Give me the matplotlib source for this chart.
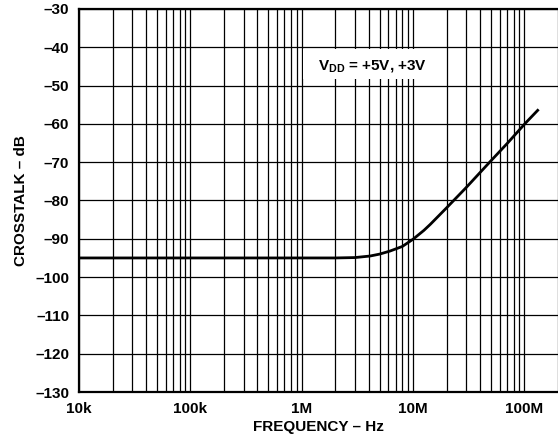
import matplotlib
matplotlib.use("Agg")
import matplotlib.pyplot as plt
from matplotlib.patches import Rectangle
from matplotlib.ticker import FixedLocator, NullFormatter, LogLocator

plt.rcParams['font.family'] = ['Liberation Sans', 'DejaVu Sans']
plt.rcParams['font.weight'] = 'bold'
plt.rcParams['mathtext.fontset'] = 'custom'
plt.rcParams['mathtext.rm'] = 'Liberation Sans:bold'
plt.rcParams['mathtext.bf'] = 'Liberation Sans:bold'

# ── data ──
freq_hz = [1e4, 1e5, 1e6, 2e6, 3e6, 4.1e6, 5e6, 6.2e6, 8e6, 1e7,
           1.25e7, 1.43e7, 2e7, 3e7, 4.9e7, 7e7, 1.02e8, 1.34e8]
crosstalk_db = [-95.0, -95.0, -95.0, -95.0, -94.9, -94.5, -94.0, -93.2, -92.0, -90.1,
                -87.8, -86.2, -81.9, -76.6, -69.9, -65.1, -59.8, -56.2]

x_ticks = [1e4, 1e5, 1e6, 1e7, 1e8]
x_labels = ['10k', '100k', '1M', '10M', '100M']
y_ticks = list(range(-130, -29, 10))
y_labels = ['\u2013' + str(abs(v)) for v in y_ticks]

FS = 11

fig = plt.figure(figsize=(5.58, 4.42), dpi=100)
ax = fig.add_axes([79/558, 1 - 392/442, 1 - 79/558, (392 - 9)/442])

ax.set_xscale('log')
ax.set_xlim(1e4, 2e8)
ax.set_ylim(-130, -30)

ax.xaxis.set_major_locator(FixedLocator(x_ticks))
ax.xaxis.set_minor_locator(LogLocator(base=10, subs=range(2, 10), numticks=20))
ax.xaxis.set_minor_formatter(NullFormatter())
ax.set_xticks(x_ticks)
ax.set_xticklabels(x_labels)
ax.set_yticks(y_ticks)
ax.set_yticklabels(y_labels)

ax.grid(True, which='both', axis='x', color='black', lw=0.9)
ax.grid(True, which='major', axis='y', color='black', lw=0.9)

ax.tick_params(which='both', length=0, labelsize=FS)
ax.tick_params(axis='y', pad=7)
ax.tick_params(axis='x', pad=7)
for lab in ax.get_xticklabels() + ax.get_yticklabels():
    lab.set_fontweight('bold')

for s in ['left', 'bottom', 'top']:
    ax.spines[s].set_linewidth(1.6)
ax.spines['right'].set_visible(False)

ax.plot(freq_hz, crosstalk_db, color='black', lw=2.0, zorder=3,
        solid_capstyle='butt')

# label with white background covering grid
ax.add_patch(Rectangle((1.03e6, -48.4), 1.9e7 - 1.03e6, 8.0,
                       facecolor='white', edgecolor='none', zorder=2.5))
ax.text(4.3e6, -45.2, r'V$_{\mathrm{DD}}$ = +5V, +3V', ha='center', va='center',
        fontsize=FS, fontweight='bold', zorder=4)

ax.set_xlabel('FREQUENCY \u2013 Hz', fontsize=FS, fontweight='bold', labelpad=3)
ax.set_ylabel('CROSSTALK \u2013 dB', fontsize=FS, fontweight='bold', labelpad=5)

fig.savefig('out.png', dpi=100)
